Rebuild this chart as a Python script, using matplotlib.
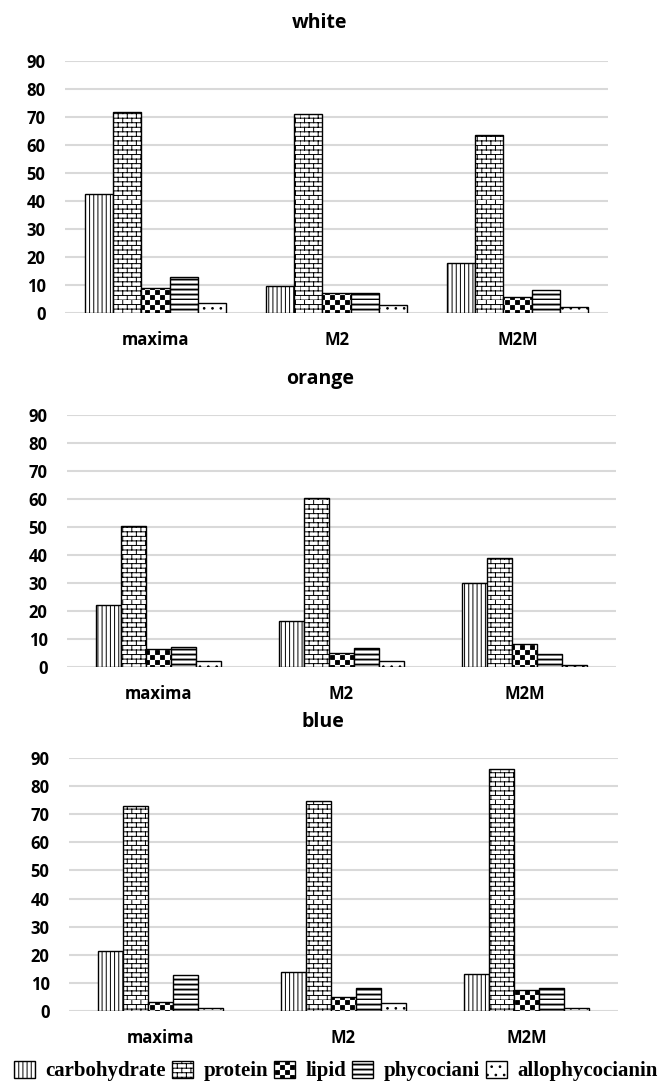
import matplotlib
matplotlib.use("Agg")
import matplotlib.pyplot as plt
from matplotlib import hatch as mhatch
from matplotlib.path import Path
import numpy as np

# data
categories = ["maxima", "M2", "M2M"]
series = ["carbohydrate", "protein", "lipid", "phycociani", "allophycocianin"]

white = [[42.4, 9.6, 17.9],
         [71.9, 71.0, 63.6],
         [8.9, 7.0, 5.8],
         [12.9, 7.1, 8.3],
         [3.6, 2.9, 2.1]]
orange = [[22.3, 16.4, 30.0],
          [50.4, 60.5, 39.0],
          [6.5, 5.0, 8.2],
          [7.3, 6.9, 4.5],
          [2.3, 2.3, 0.8]]
blue = [[21.4, 13.8, 13.3],
        [73.1, 74.6, 86.0],
        [3.3, 5.0, 7.5],
        [12.8, 8.3, 8.3],
        [1.1, 2.9, 1.1]]

panels = [("white", white), ("orange", orange), ("blue", blue)]
yticks = np.arange(0, 100, 10)


# extra hatch styles: 'b' brick, 'c' checkerboard, 's' thick horizontal stripes
class BrickHatch(mhatch.HatchPatternBase):
    rows, cols = 22, 11

    def __init__(self, hatch, density):
        on = "b" in hatch
        self.num_vertices = (self.rows * 2 + self.rows * self.cols * 2) if on else 0

    def set_vertices_and_codes(self, vertices, codes):
        v = []
        for r in range(self.rows):
            y = r / self.rows
            v += [(0, y), (1, y)]
            off = 0.5 / self.cols if r % 2 else 0.0
            for c in range(self.cols):
                x = c / self.cols + off
                v += [(x, y), (x, y + 1.0 / self.rows)]
        vertices[:] = v
        codes[0::2] = Path.MOVETO
        codes[1::2] = Path.LINETO


class CheckerHatch(mhatch.HatchPatternBase):
    n = 20

    def __init__(self, hatch, density):
        self.num_vertices = (self.n * self.n // 2) * 5 if "c" in hatch else 0

    def set_vertices_and_codes(self, vertices, codes):
        v = []
        s = 1.0 / self.n
        e = 0.12 * s
        for r in range(self.n):
            for c in range(self.n):
                if (r + c) % 2 == 0:
                    x0, y0 = c * s + e, r * s + e
                    x1, y1 = (c + 1) * s - e, (r + 1) * s - e
                    v += [(x0, y0), (x1, y0), (x1, y1), (x0, y1), (x0, y0)]
        vertices[:] = v
        codes[:] = [Path.MOVETO, Path.LINETO, Path.LINETO, Path.LINETO,
                    Path.CLOSEPOLY] * (len(v) // 5)


class StripeHatch(mhatch.HatchPatternBase):
    n = 20

    def __init__(self, hatch, density):
        self.num_vertices = self.n * 5 if "s" in hatch else 0

    def set_vertices_and_codes(self, vertices, codes):
        v = []
        for r in range(self.n):
            y0 = r / self.n
            y1 = y0 + 0.009
            v += [(0, y0), (1, y0), (1, y1), (0, y1), (0, y0)]
        vertices[:] = v
        codes[:] = [Path.MOVETO, Path.LINETO, Path.LINETO, Path.LINETO,
                    Path.CLOSEPOLY] * self.n


mhatch._hatch_types += [BrickHatch, CheckerHatch, StripeHatch]

hatches = ["||||", "b", "c", "s", ".."]

plt.rcParams['hatch.linewidth'] = 0.7
plt.rcParams['font.family'] = ['Open Sans', 'DejaVu Sans']

fig = plt.figure(figsize=(6.72, 10.83), dpi=100)

# axes boxes in pixels: left, right, top, bottom
boxes = [(65, 608, 61, 313), (67, 616, 415, 667), (69, 618, 758, 1011)]
widths = [0.155, 0.137, 0.137]
title_y = [23, 379, 722]
title_x = [320, 320, 323]
W, H = 672.0, 1083.0

handles = []
for (name, vals), (l, r, t, b), bw, ty, tx in zip(panels, boxes, widths,
                                                  title_y, title_x):
    ax = fig.add_axes([l / W, 1 - b / H, (r - l) / W, (b - t) / H])
    x = np.arange(len(categories))
    for i, s in enumerate(series):
        bars = ax.bar(x + (i - 2) * bw, vals[i], bw, color="white",
                      edgecolor="black", linewidth=1.0, hatch=hatches[i],
                      label=s, zorder=3)
        if name == "white":
            handles.append(bars)
    ax.set_xlim(-0.5, 2.5)
    ax.set_ylim(0, 90)
    ax.set_yticks(yticks)
    ax.set_xticks(x)
    ax.set_xticklabels(categories, fontsize=12, fontweight="bold")
    ax.tick_params(axis="y", labelsize=12, length=0, pad=14)
    ax.tick_params(axis="x", length=0, pad=13)
    for lab in ax.get_yticklabels():
        lab.set_fontweight("bold")
    ax.grid(axis="y", color="#d9d9d9", linewidth=1.5, zorder=0)
    for sp in ax.spines.values():
        sp.set_visible(False)
    fig.text(tx / W, 1 - ty / H, name, ha="center", va="center",
             fontsize=14, fontweight="bold")

fig.legend(handles=handles, labels=series, loc="center", ncol=5,
           bbox_to_anchor=(0.5, 1 - 1071 / H), frameon=False,
           handlelength=1.0, handleheight=0.9, handletextpad=0.5,
           columnspacing=0.3,
           prop={"family": "Liberation Serif", "weight": "bold", "size": 15})

fig.savefig("out.png", dpi=100)
